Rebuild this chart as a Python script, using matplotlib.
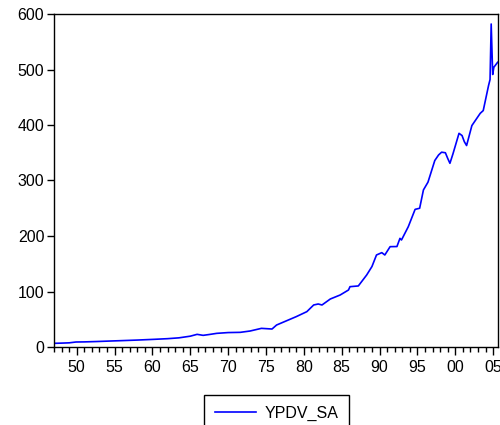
import matplotlib
matplotlib.use("Agg")
import matplotlib.pyplot as plt
from matplotlib.ticker import MultipleLocator, FixedLocator

plt.rcParams['font.family'] = ['Liberation Sans', 'DejaVu Sans']

# Decimal-year positions and YPDV_SA values
years = [1947.0, 1948.0, 1949.0, 1949.9, 1951.0, 1952.5, 1954.5, 1956.0, 1958.0,
         1960.2, 1962.0, 1963.5, 1965.0, 1965.9, 1966.7, 1967.5, 1968.5, 1970.0,
         1971.6, 1972.9, 1974.4, 1975.8, 1976.4, 1977.5, 1979.0, 1980.4, 1981.3,
         1981.9, 1982.4, 1983.5, 1984.8, 1985.9, 1986.1, 1987.2, 1988.3, 1989.0,
         1989.6, 1990.3, 1990.7, 1991.4, 1992.3, 1992.7, 1992.9, 1993.8, 1994.7,
         1995.3, 1995.8, 1996.4, 1997.3, 1997.8, 1998.2, 1998.7, 1999.0, 1999.3,
         1999.7, 2000.5, 2000.9, 2001.2, 2001.5, 2002.2, 2003.3, 2003.7, 2004.4,
         2004.6, 2004.75, 2004.95, 2005.1, 2005.6]
values = [6.6, 7.0, 7.5, 9.0, 9.2, 9.8, 10.8, 11.5, 12.5,
          13.8, 15.0, 16.5, 19.5, 22.8, 21.0, 22.5, 24.6, 26.0,
          26.4, 28.8, 33.6, 32.4, 39.6, 46.0, 54.7, 63.7, 75.7,
          77.5, 75.7, 86.5, 93.7, 102.7, 108.7, 110.0, 129.7, 145.0,
          165.8, 170.0, 165.8, 180.8, 181.0, 195.8, 192.8, 216.8, 248.0,
          250.0, 283.0, 297.0, 336.0, 346.0, 351.0, 350.0, 340.0, 331.0,
          348.0, 385.0, 381.0, 370.0, 363.0, 399.0, 421.0, 426.0, 471.0,
          482.0, 582.0, 491.0, 504.0, 513.0]

major_years = [1950, 1955, 1960, 1965, 1970, 1975, 1980, 1985, 1990, 1995, 2000, 2005]
major_labels = ['50', '55', '60', '65', '70', '75', '80', '85', '90', '95', '00', '05']
y_ticks = [0, 100, 200, 300, 400, 500, 600]

fig = plt.figure(figsize=(5.0, 4.25), dpi=100)
ax = fig.add_axes([54/500, 1 - 347/425, (498-54)/500, (347-14)/425])

ax.plot(years, values, color='#0000ff', linewidth=1.2, label='YPDV_SA')

ax.set_xlim(1947.0, 2005.65)
ax.set_ylim(0, 600)

ax.xaxis.set_major_locator(FixedLocator(major_years))
ax.set_xticklabels(major_labels)
ax.xaxis.set_minor_locator(MultipleLocator(1))
ax.set_yticks(y_ticks)
ax.set_yticklabels([str(v) for v in y_ticks])

ax.tick_params(axis='x', which='major', direction='out', length=6, width=1,
               labelsize=11.5, pad=3, top=False)
ax.tick_params(axis='x', which='minor', direction='out', length=3.5, width=1, top=False)
ax.tick_params(axis='y', which='major', direction='out', length=5, width=1,
               labelsize=11.5, pad=2, right=False)

for s in ax.spines.values():
    s.set_linewidth(1.0)
    s.set_color('black')

leg = fig.legend(loc='upper center', bbox_to_anchor=(0.553, 1 - 395/425),
                 fontsize=11.5, frameon=True, fancybox=False, edgecolor='black',
                 framealpha=1, handlelength=2.6, handletextpad=0.5,
                 borderpad=0.65, borderaxespad=0)
leg.get_frame().set_linewidth(1.0)

fig.savefig('out.png', dpi=100)
